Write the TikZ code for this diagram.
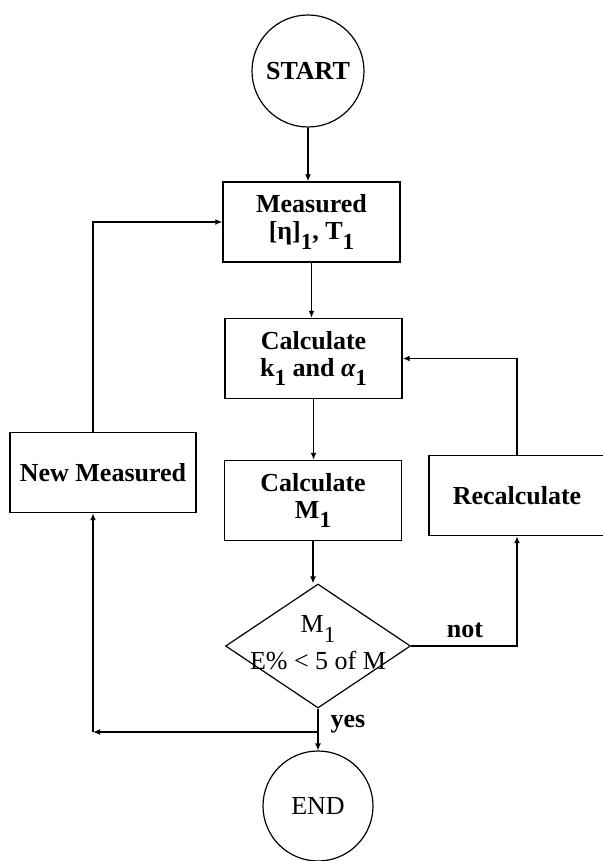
\documentclass[tikz,border=0pt]{standalone}
\usepackage{fontspec}
\setmainfont{Liberation Serif}
\usetikzlibrary{shapes.geometric,arrows.meta}
\newcommand{\lo}[1]{\raisebox{-0.8ex}{\fontsize{11.5}{12}\selectfont #1}}
\tikzset{
  flow/.style={line width=0.7pt,-{Latex[length=3.5pt,width=3pt]}},
  stepbox/.style={draw,line width=0.7pt,rectangle,align=center,inner sep=0pt,
    minimum width=88.5pt,minimum height=40pt,font=\fontsize{13}{15.5}\selectfont\bfseries},
  term/.style={draw,line width=0.6pt,circle,inner sep=0pt,minimum size=56pt,
    font=\fontsize{13}{15}\selectfont},
  test/.style={draw,line width=0.6pt,diamond,inner sep=0pt,minimum width=92.5pt,minimum height=62pt},
  tag/.style={font=\fontsize{13}{15}\selectfont\bfseries}
}
\begin{document}
\begin{tikzpicture}[x=0.5pt,y=-0.5pt]
\useasboundingbox (0,0) rectangle (603,861);

\node[term,font=\fontsize{13}{15}\selectfont\bfseries] (start) at (308,71) {START};
\node[stepbox] (meas) at (311.5,222) {Measured\\[-2pt] {[η]}\lo{1}, T\lo{1}};
\node[stepbox] (calck) at (313.5,358.5) {Calculate\\[-2pt] k\lo{1} and {\itshape α}\lo{1}};
\node[stepbox] (calcm) at (313,500.5) {Calculate\\[-2pt] M\lo{1}};
\node[stepbox,minimum width=93pt] (newm) at (103,472.5) {New Measured};
\node[stepbox,minimum width=88pt] (recalc) at (517,495.5) {Recalculate};
\node[test] (dec) at (318,646) {};
\node[align=center,font=\fontsize{13}{15.5}\selectfont] (dectext) at (318,643) {M\lo{1}\\[3pt] E\% < 5 of M};
\node[term,minimum size=55pt] (endc) at (318,806) {END};

\coordinate (split) at (318,732);
\coordinate (lcorner) at (93,732);

\draw[flow] (start.south) -- (start.south |- meas.north);
\draw[flow] (meas.south) -- (meas.south |- calck.north);
\draw[flow] (calck.south) -- (calck.south |- calcm.north);
\draw[flow] (calcm.south) -- (calcm.south |- dec.north);
\draw[flow] (dec.south) -- (endc.north);
\draw[flow] (split) -- (lcorner);
\draw[flow] (lcorner) -- (lcorner |- newm.south);
\draw[flow] (lcorner |- newm.north) |- (meas.west);
\draw[flow] (dec.east) -| (recalc.south);
\draw[flow] (recalc.north) |- (calck.east);

\node[tag] (nolabel) at (465,630) {not};
\node[tag] (yeslabel) at (348,724) {yes};
\end{tikzpicture}
\end{document}
